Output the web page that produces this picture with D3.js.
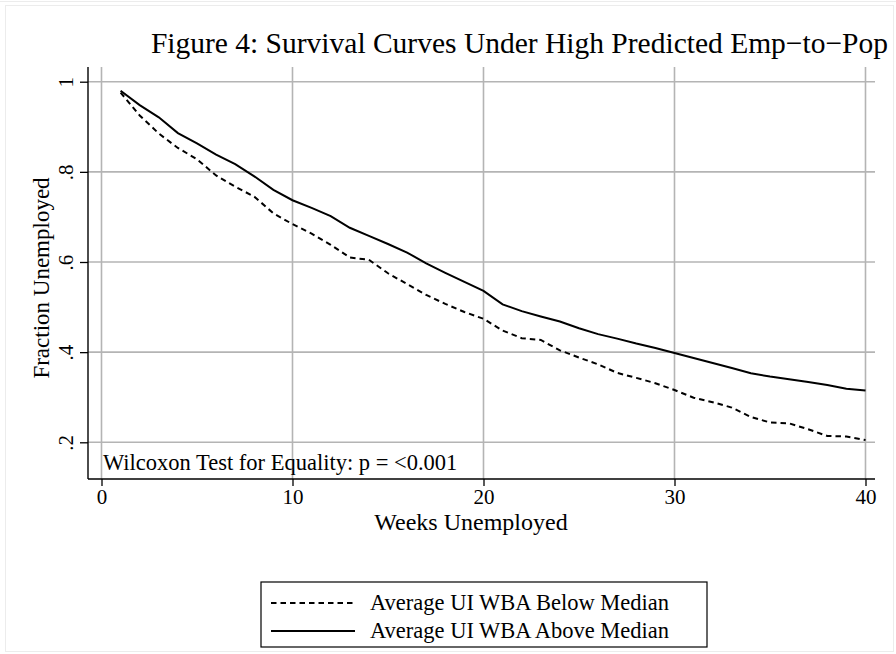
<!DOCTYPE html>
<html><head><meta charset="utf-8">
<script src="https://cdn.jsdelivr.net/npm/d3@7"></script>
<style>
html,body{margin:0;padding:0;background:#fff;}
svg{display:block;font-family:"Liberation Serif","Times New Roman",serif;}
</style></head>
<body>
<svg id="chart" width="896" height="654"></svg>
<script>
const weeks = [1,2,3,4,5,6,7,8,9,10,11,12,13,14,15,16,17,18,19,20,21,22,23,24,25,26,27,28,29,30,31,32,33,34,35,36,37,38,39,40];
const belowMedian = [0.976,0.925,0.885,0.853,0.828,0.792,0.767,0.745,0.708,0.684,0.663,0.638,0.610,0.605,0.575,0.551,0.527,0.507,0.489,0.474,0.448,0.431,0.427,0.404,0.388,0.373,0.354,0.343,0.331,0.316,0.299,0.289,0.277,0.256,0.244,0.242,0.229,0.214,0.213,0.205];
const aboveMedian = [0.980,0.948,0.921,0.886,0.863,0.838,0.817,0.790,0.760,0.737,0.720,0.702,0.676,0.658,0.640,0.621,0.597,0.576,0.556,0.536,0.506,0.491,0.479,0.468,0.453,0.440,0.430,0.419,0.409,0.398,0.387,0.376,0.365,0.353,0.346,0.340,0.334,0.327,0.319,0.315];
const xTicks = [0,10,20,30,40];
const yTicks = [0.2,0.4,0.6,0.8,1];
const yTickLabels = [".2",".4",".6",".8","1"];
const seriesNames = ["Average UI WBA Below Median","Average UI WBA Above Median"];
const titleText = "Figure 4: Survival Curves Under High Predicted Emp\u2212to\u2212Pop";
const xTitle = "Weeks Unemployed";
const yTitle = "Fraction Unemployed";
const noteText = "Wilcoxon Test for Equality: p = <0.001";

const svg = d3.select("#chart");
const W = 896, H = 654;
const plot = {left: 88, right: 875, top: 67, bottom: 479};

// outer frame
svg.append("rect").attr("x",0).attr("y",0).attr("width",W).attr("height",H).attr("fill","#fff");
svg.append("line").attr("x1",0).attr("x2",W).attr("y1",1.5).attr("y2",1.5).attr("stroke","#ececec").attr("stroke-width",1);
svg.append("rect").attr("x",5.5).attr("y",5.5).attr("width",W-8).attr("height",H-8)
  .attr("fill","none").attr("stroke","#ececec").attr("stroke-width",1);

const x = d3.scaleLinear().domain([0,40]).range([101.5,865.5]);
const y = d3.scaleLinear().domain([0.2,1]).range([442.3,81.7]);

const grid = svg.append("g");
grid.selectAll("line.v").data(xTicks).join("line")
  .attr("x1",d=>x(d)).attr("x2",d=>x(d)).attr("y1",plot.top).attr("y2",plot.bottom)
  .attr("stroke","#b4b4b4").attr("stroke-width",1.6);
grid.selectAll("line.h").data(yTicks).join("line")
  .attr("x1",plot.left).attr("x2",plot.right).attr("y1",d=>y(d)).attr("y2",d=>y(d))
  .attr("stroke","#b4b4b4").attr("stroke-width",1.6);

// axes
const xAxis = d3.axisBottom(x).tickValues(xTicks).tickSize(7).tickPadding(3).tickFormat(d3.format("d"));
const gx = svg.append("g").attr("transform",`translate(0,${plot.bottom})`).call(xAxis);
gx.select(".domain").remove();
gx.selectAll(".tick line").attr("stroke","#000").attr("stroke-width",1.3);
gx.selectAll(".tick text").attr("font-size",21).attr("font-family","Liberation Serif").attr("fill","#000");
svg.append("line").attr("x1",plot.left).attr("x2",plot.right).attr("y1",plot.bottom).attr("y2",plot.bottom)
  .attr("stroke","#000").attr("stroke-width",1.4);

const yAxis = d3.axisLeft(y).tickValues(yTicks).tickSize(8).tickFormat((d,i)=>yTickLabels[i]);
const gy = svg.append("g").attr("transform",`translate(${plot.left},0)`).call(yAxis);
gy.select(".domain").remove();
gy.selectAll(".tick line").attr("stroke","#000").attr("stroke-width",1.3);
gy.selectAll(".tick text").attr("font-size",21).attr("font-family","Liberation Serif").attr("fill","#000")
  .attr("x",null).attr("dy",null)
  .attr("text-anchor","middle")
  .attr("transform","translate(-15,0) rotate(-90)");
svg.append("line").attr("x1",plot.left).attr("x2",plot.left).attr("y1",plot.top).attr("y2",plot.bottom)
  .attr("stroke","#000").attr("stroke-width",1.4);

// lines
const line = d3.line().x((d,i)=>x(weeks[i])).y(d=>y(d));
svg.append("path").datum(belowMedian).attr("d",line).attr("fill","none")
  .attr("stroke","#000").attr("stroke-width",2).attr("stroke-dasharray","5.5,4");
svg.append("path").datum(aboveMedian).attr("d",line).attr("fill","none")
  .attr("stroke","#000").attr("stroke-width",2);

// note
svg.append("text").attr("x",103).attr("y",470).attr("font-size",22.5).text(noteText);

// title
svg.append("text").attr("x",888).attr("y",53).attr("text-anchor","end").attr("font-size",29.5).text(titleText);

// axis titles
svg.append("text").attr("x",471).attr("y",530).attr("text-anchor","middle").attr("font-size",24).text(xTitle);
svg.append("text").attr("transform","translate(49,278) rotate(-90)").attr("text-anchor","middle").attr("font-size",23).text(yTitle);

// legend
const lg = svg.append("g");
lg.append("rect").attr("x",261).attr("y",582).attr("width",446).attr("height",65)
  .attr("fill","#fff").attr("stroke","#000").attr("stroke-width",1.2);
const rows = [{name:seriesNames[0],dash:"5.5,4",cy:603},{name:seriesNames[1],dash:null,cy:631}];
rows.forEach(r=>{
  lg.append("line").attr("x1",271).attr("x2",355).attr("y1",r.cy).attr("y2",r.cy)
    .attr("stroke","#000").attr("stroke-width",2).attr("stroke-dasharray",r.dash);
  lg.append("text").attr("x",370).attr("y",r.cy+7).attr("font-size",22.5).text(r.name);
});
</script>
</body></html>
